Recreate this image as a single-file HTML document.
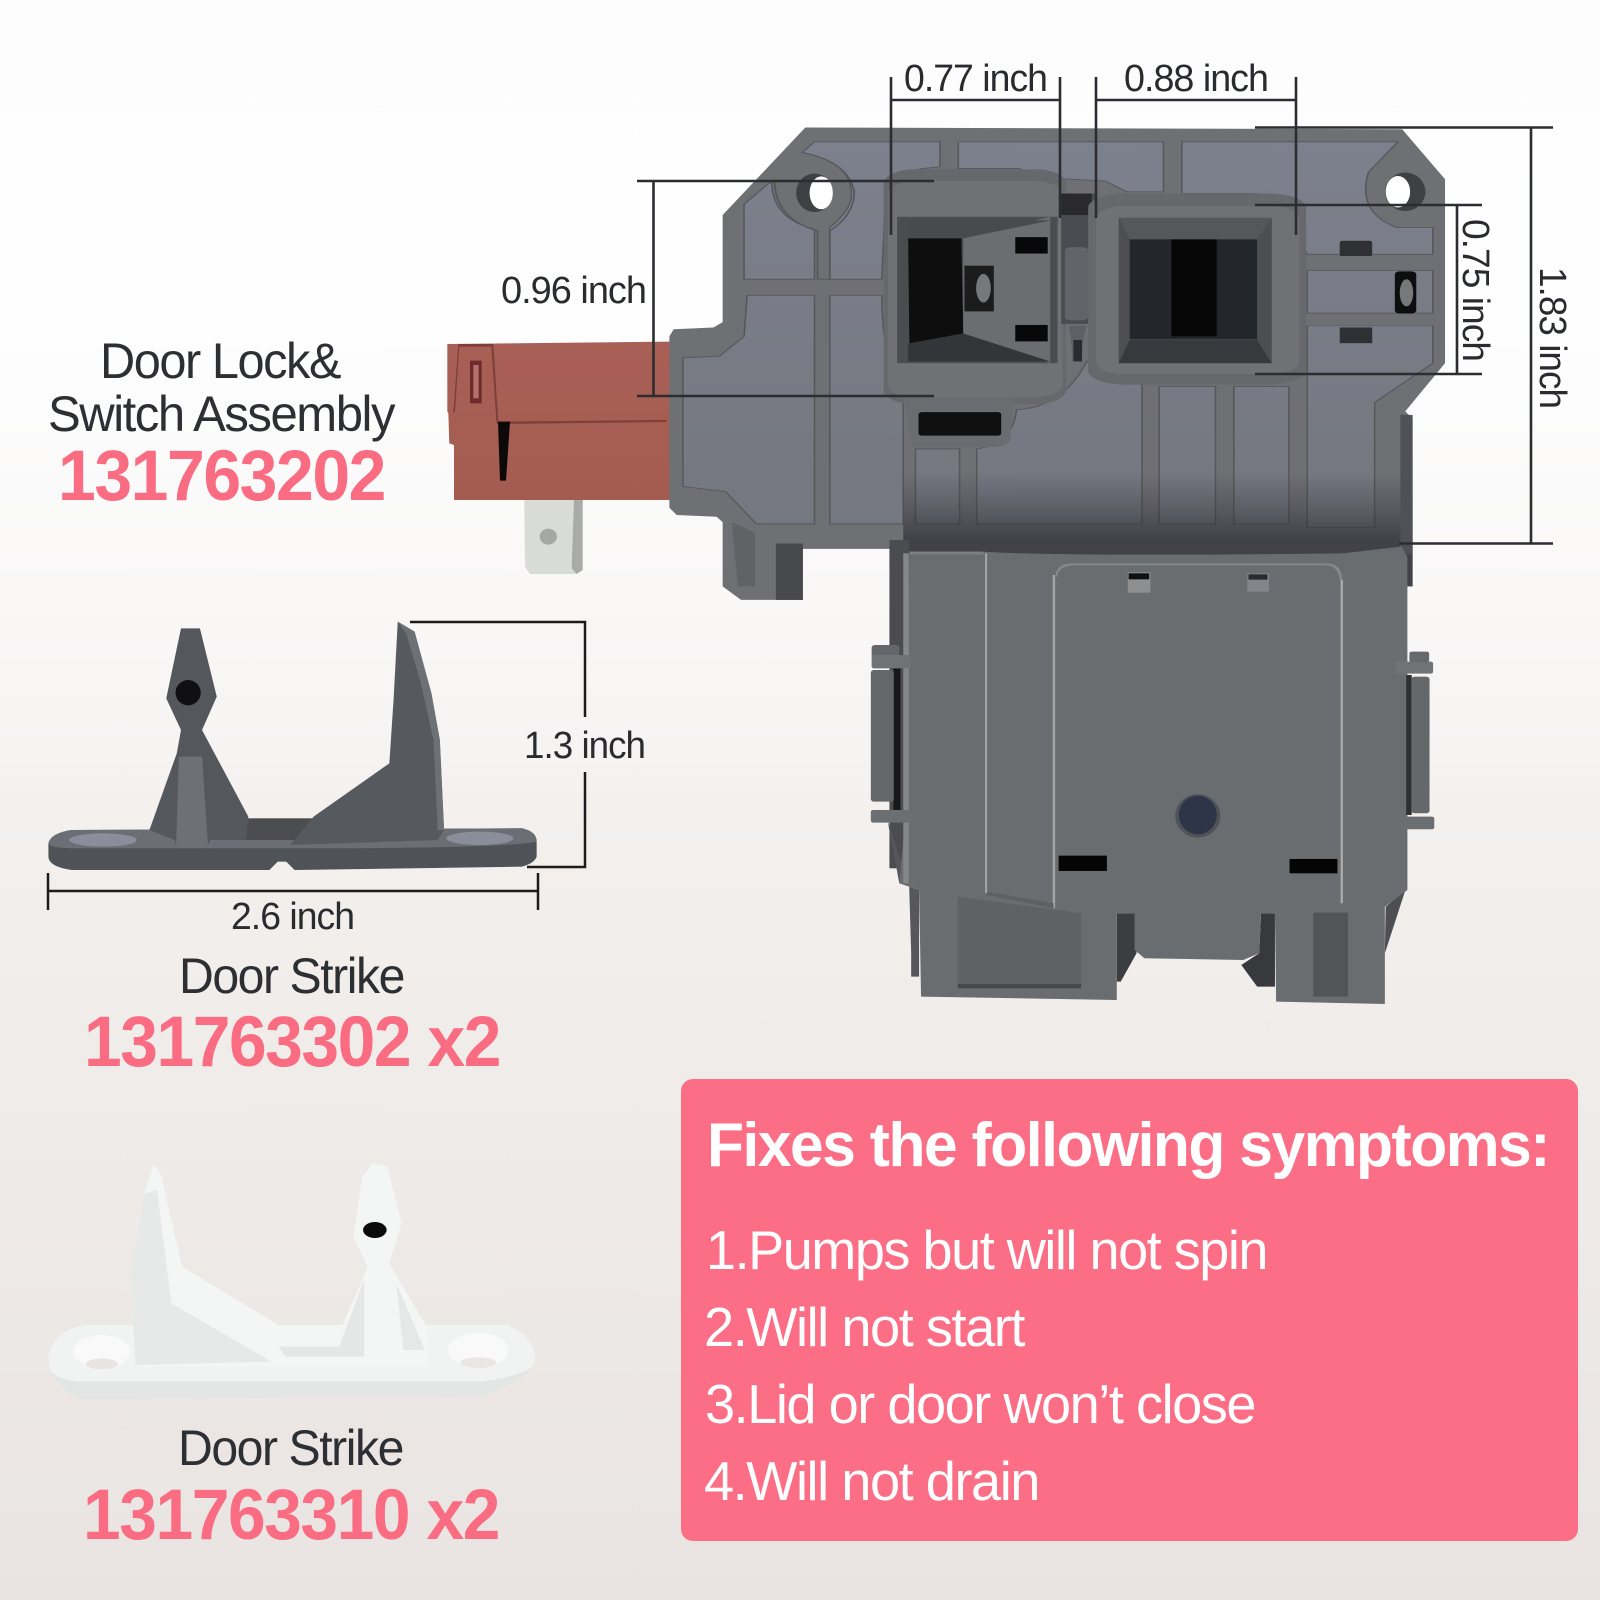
<!DOCTYPE html>
<html><head><meta charset="utf-8"><style>
html,body{margin:0;padding:0;background:#fff}
svg{display:block}
text{font-family:"Liberation Sans",Arial,sans-serif}
.d{fill:#2a2b2e;font-size:38px;letter-spacing:-1px}
.h{fill:#2d2f33;font-size:50px;letter-spacing:-1.5px}
.p{fill:#f96c82;font-size:71px;font-weight:bold;letter-spacing:-1.5px}
.w{fill:#fff;font-size:55px;letter-spacing:-1.5px}
</style></head><body>
<svg width="1600" height="1600" viewBox="0 0 1600 1600" xmlns="http://www.w3.org/2000/svg">
<defs>
<linearGradient id="bg" x1="0" y1="0" x2="0" y2="1">
<stop offset="0" stop-color="#fdfdfd"/><stop offset=".2" stop-color="#fefefe"/><stop offset=".47" stop-color="#f6f4f3"/><stop offset=".5" stop-color="#f3f0ee"/><stop offset="1" stop-color="#e9e4e2"/>
</linearGradient>
<linearGradient id="pan" gradientUnits="userSpaceOnUse" x1="0" y1="250" x2="0" y2="1400">
<stop offset="0" stop-color="#7d818e"/><stop offset=".45" stop-color="#797c86"/><stop offset="1" stop-color="#74777f"/>
</linearGradient>
<linearGradient id="shade" gradientUnits="userSpaceOnUse" x1="0" y1="1210" x2="0" y2="1400">
<stop offset="0" stop-color="#34363c" stop-opacity="0"/><stop offset=".5" stop-color="#34363c" stop-opacity=".35"/><stop offset="1" stop-color="#2e3036" stop-opacity=".72"/>
</linearGradient>
<linearGradient id="brown" x1="0" y1="0" x2="0" y2="1"><stop offset="0" stop-color="#a85f55"/><stop offset="1" stop-color="#a55c50"/></linearGradient>
</defs>
<rect width="1600" height="1600" fill="url(#bg)"/>

<!-- brown connector -->
<g transform="translate(430,320) scale(.3333)">
<path d="M52,72 L720,65 L725,540 L72,540 L72,375 L58,370 L55,280 L52,275Z" fill="url(#brown)"/>
<path d="M85,72 L190,72 L205,305 L710,300 L710,306 L200,312 L184,80 L88,80 L75,275 L70,280Z" fill="#7d3f38"/>
<rect x="120" y="122" width="35" height="128" fill="#6e2a2c"/><rect x="130" y="135" width="16" height="100" fill="#b5706b"/>
<path d="M204,305 L240,305 L228,482 L210,482Z" fill="#0c0908"/>
<path d="M283,540 H458 V750 L440,762 H300 L285,740Z" fill="#d9dbd7"/>
<path d="M432,540 H458 V750 L440,762 L425,745Z" fill="#a9aba8"/>
<ellipse cx="355" cy="650" rx="26" ry="24" fill="#a6a8a4"/>
</g>

<!-- upper plate -->
<g transform="translate(640,40) scale(.6122,.3571)">
<path d="M270,245 L1245,250 L1315,390 L1315,905 L1250,1040 L1262,1060 L1262,1530 L440,1530 L420,1425 L266,1425 L266,1568 L165,1568 L135,1530 L135,1350 L125,1335 L60,1330 L48,1310 L48,830 L55,810 L120,805 L135,790 L135,490Z" fill="#6e7074"/>
<rect x="222" y="1410" width="44" height="158" fill="#47494d"/>
<path d="M150,1350 L188,1380 V1530 L160,1530Z" fill="#606266"/>
<g fill="url(#pan)" stroke="#55575b" stroke-width="2.500">
<path d="M285,285 L490,285 L490,355 L460,360 Q410,380 400,470 L395,670 L310,670 L310,525 Q350,470 345,420 Q340,340 265,315Z"/>
<path d="M520,285 H855 V425 H795 L760,395 L650,385 L620,360 H520Z"/>
<path d="M885,285 H1238 L1190,370 Q1170,480 1235,525 H1295 V600 H1090 Q1075,560 1070,490 Q1060,430 1000,430 H885Z"/>
<path d="M215,395 L170,460 V670 H285 V530 Q215,500 215,395Z"/>
<path d="M175,715 H285 V1355 H190 L140,1265 L70,1250 V890 L130,885 L170,830Z"/>
<path d="M310,715 H395 Q395,900 430,1000 V1355 H310Z"/>
<path d="M450,1145 H522 V1355 H450Z"/>
<path d="M550,1145 Q610,1130 615,1035 Q690,1030 730,900 Q780,960 820,965 V1355 H550Z"/>
<path d="M848,970 H940 V1355 H848Z"/>
<path d="M970,970 H1060 V1355 H970Z"/>
<path d="M1090,800 H1295 V905 L1200,1015 V1365 H1090Z"/>
<path d="M1090,645 H1295 V765 H1090Z"/>
</g>
<!-- dark lower band -->
<rect x="430" y="1210" width="832" height="320" fill="url(#shade)"/>
<!-- mounting holes -->
<ellipse cx="285" cy="428" rx="30" ry="54" fill="#3e4043"/><ellipse cx="296" cy="428" rx="19" ry="46" fill="#fff"/>
<ellipse cx="1250" cy="425" rx="33" ry="54" fill="#3e4043"/><ellipse cx="1238" cy="425" rx="20" ry="44" fill="#fff"/>
<path d="M220,395 Q220,500 290,535 V670 H310 V535 Q350,490 350,425 Q340,340 265,315" fill="none" stroke="#55575b" stroke-width="3"/>
<!-- frames -->
<rect x="398" y="362" width="298" height="658" rx="50" ry="40" fill="#66686c"/>
<rect x="405" y="395" width="285" height="605" rx="45" ry="35" fill="#6f7175"/>
<path d="M430,1000 H610 L605,1120 Q600,1140 570,1140 H445Z" fill="#6a6c70"/>
<rect x="455" y="1042" width="135" height="66" rx="6" fill="#0f0f10"/>
<rect x="420" y="495" width="262" height="410" fill="#4a4c4f"/>
<path d="M438,555 H525 L528,822 L440,850Z" fill="#0e0e0f"/>
<path d="M528,555 L670,495 V905 L528,822Z" fill="#6b6d71"/>
<path d="M438,505 H672 L528,555 H438Z" fill="#484a4d"/>
<path d="M438,850 L528,822 L670,900 H438Z" fill="#343538"/>
<rect x="530" y="632" width="48" height="128" fill="#1c1c1d"/><ellipse cx="561" cy="695" rx="12" ry="40" fill="#77787a"/>
<rect x="613" y="552" width="53" height="46" fill="#08080a"/><rect x="613" y="798" width="53" height="46" fill="#08080a"/>
<rect x="688" y="430" width="56" height="365" fill="#4a4c52"/>
<rect x="688" y="430" width="50" height="60" fill="#2a2a2c"/>
<rect x="694" y="580" width="38" height="205" rx="10" fill="#62646a"/>
<path d="M700,800 H730 Q722,835 722,900 L706,900 Q705,830 700,800Z" fill="#5e6066"/><rect x="708" y="840" width="14" height="60" fill="#2a2b2e"/>
<rect x="732" y="430" width="356" height="535" rx="60" ry="40" fill="#66686c"/>
<rect x="745" y="465" width="332" height="470" rx="45" ry="35" fill="#6f7175"/>
<rect x="782" y="498" width="250" height="407" fill="#4c4e51"/>
<rect x="800" y="558" width="208" height="280" fill="#23262a"/>
<rect x="868" y="558" width="74" height="272" fill="#070708"/>
<path d="M782,498 H1032 L1008,558 H800Z" fill="#55575a"/>
<path d="M782,905 L800,840 H1008 L1032,905Z" fill="#37393c"/>
<!-- right clip -->
<rect x="1143" y="562" width="53" height="44" rx="5" fill="#2e3033"/>
<rect x="1143" y="805" width="53" height="44" fill="#2e3033"/>
<rect x="1233" y="648" width="35" height="118" rx="8" fill="#0e0e0f"/><ellipse cx="1252" cy="708" rx="11" ry="38" fill="#77787a"/>
<rect x="1090" y="605" width="205" height="38" fill="#6e7074"/><rect x="1090" y="768" width="205" height="32" fill="#6e7074"/>
<rect x="1242" y="1050" width="20" height="390" fill="#4f5156"/>
</g>

<!-- lower housing -->
<g transform="translate(840,520) scale(.3954,.3333)">
<rect x="125" y="60" width="50" height="985" fill="#4a4c50"/>
<path d="M120,900 L150,1090 L200,1110 L200,1370 L180,1370 L180,1300 L175,1100Z" fill="#55575b"/>
<path d="M1380,1160 L1430,1110 L1378,1300Z" fill="#4d4f53"/>
<path d="M700,1180 H750 V1300 L710,1385 H700Z" fill="#3b3d40"/>
<path d="M1065,1180 H1100 V1400 H1055 L1015,1335 L1060,1300Z" fill="#37393c"/>
<path d="M175,95 L360,95 Q560,110 1270,100 L1420,80 L1435,110 L1435,1110 L1378,1160 L1378,1452 L1103,1445 L1100,1180 L1065,1180 L1060,1300 L1020,1320 L770,1315 L745,1290 L745,1180 L700,1180 L700,1440 L205,1430 L200,1110 L150,1090 L165,900Z" fill="#6a6d70"/>
<path d="M545,170 Q545,130 590,130 H1230 Q1270,130 1270,180 L1264,180 Q1260,138 1230,136 H590 Q552,138 550,170Z" fill="#85888a"/>
<path d="M175,95 H360 L365,103 H178Z" fill="#7d8083"/>
<rect x="367" y="100" width="5" height="1020" fill="#a5a7a4"/>
<rect x="538" y="165" width="6" height="1000" fill="#a5a7a4"/>
<rect x="1266" y="180" width="6" height="970" fill="#a9aba8"/>
<rect x="160" y="100" width="14" height="990" fill="#85888a"/>
<path d="M370,1125 L540,1165 V1150 L372,1115Z" fill="#5e6063"/>
<!-- ears -->
<rect x="135" y="440" width="18" height="430" fill="#17181a"/>
<rect x="78" y="450" width="58" height="395" rx="8" fill="#646769"/>
<rect x="80" y="375" width="70" height="40" rx="8" fill="#64676a"/>
<rect x="80" y="405" width="100" height="40" rx="6" fill="#707376"/>
<rect x="78" y="870" width="105" height="38" rx="6" fill="#6c6f72"/>
<rect x="1432" y="465" width="14" height="420" fill="#2e3033"/>
<rect x="1445" y="470" width="46" height="410" rx="8" fill="#65686b"/>
<rect x="1405" y="425" width="95" height="36" rx="6" fill="#717477"/>
<rect x="1440" y="395" width="50" height="32" rx="6" fill="#666a6d"/>
<rect x="1415" y="890" width="88" height="38" rx="6" fill="#6c6f72"/>
<!-- windows -->
<rect x="728" y="157" width="57" height="61" fill="#8d8f90"/><rect x="730" y="160" width="52" height="18" fill="#101012"/>
<rect x="1030" y="160" width="55" height="55" fill="#83858a"/><rect x="1033" y="163" width="48" height="16" fill="#2a2b2e"/>
<rect x="553" y="1007" width="122" height="46" fill="#050505"/>
<rect x="1137" y="1017" width="121" height="43" fill="#050505"/>
<ellipse cx="905" cy="888" rx="57" ry="65" fill="#4f5256"/>
<ellipse cx="905" cy="885" rx="48" ry="58" fill="#2e3548"/>
<!-- bottom recesses -->
<path d="M298,1130 L610,1180 V1405 H298Z" fill="#5f6265"/>
<rect x="298" y="1392" width="312" height="13" fill="#47494c"/>
<rect x="1197" y="1178" width="88" height="252" fill="#525457"/>
<path d="M610,1165 H700 V1180 H610Z" fill="#6a6d70"/>
</g>

<!-- device dimension lines -->
<g stroke="#2b2d30" stroke-width="2.600" fill="none">
<path d="M891,77V235M1060,77V218M891,100H1060"/>
<path d="M1096,77V218M1296,77V235M1096,100H1296"/>
<path d="M637,181H934M637,396H934M653.5,181V396"/>
<path d="M1255,205H1482M1255,374H1482M1457,205V374"/>
<path d="M1255,127.500H1553M1399,543.500H1553M1531,127.500V543.500"/>
</g>

<!-- dark strike -->
<g transform="translate(0,600) scale(.4209,.3333)">
<path d="M115,730 Q120,700 170,690 L1240,685 Q1275,695 1275,725 V770 Q1270,790 1240,800 L700,810 L680,785 L660,785 L640,810 L170,810 Q115,800 115,770Z" fill="#4f5256"/>
<path d="M115,730 Q120,700 170,690 L1240,685 Q1275,695 1275,725 Q1200,745 700,745 H640 Q300,745 170,745 Q120,745 115,730Z" fill="#6b6e74"/>
<ellipse cx="245" cy="720" rx="80" ry="20" fill="#8a8e9b"/>
<ellipse cx="1140" cy="715" rx="80" ry="20" fill="#8a8e9b"/>
<rect x="565" y="655" width="190" height="65" fill="#4b4d51"/>
<path d="M430,85 L475,85 L515,290 L480,390 L590,650 L585,720 L500,720 L490,745 L420,745 L415,720 L355,690 L420,460 L430,390 L395,295Z" fill="#54575c"/>
<path d="M425,470 L480,470 L495,745 L418,745Z" fill="#6d7076"/>
<ellipse cx="447" cy="278" rx="30" ry="38" fill="#101012"/>
<path d="M945,65 L985,95 L1025,280 L1045,420 L1055,690 L1040,720 L690,735 L745,650 L925,490 L935,300Z" fill="#565a5f"/>
<path d="M945,65 L985,95 L1025,280 L1045,420 L1055,690 L1040,690 L1030,420 L1000,250 L965,100Z" fill="#6d7075"/>
</g>
<g stroke="#1c1c1c" stroke-width="2.500" fill="none">
<path d="M410,622H585V717M585,772V867H527"/>
<path d="M48,891H538M48,873V910M538,873V910"/>
</g>

<!-- white strike -->
<g transform="translate(0,1140) scale(.357,.3333)">
<path d="M135,650 Q150,570 240,555 L1420,555 Q1500,590 1500,660 Q1470,730 1350,770 L230,778 Q140,750 135,650Z" fill="#f1f2f2"/>
<path d="M430,75 L450,100 L510,380 L780,555 L960,555 L1030,380 L990,290 L1015,110 L1045,70 L1085,80 L1125,250 L1090,370 L1195,560 L1200,680 L380,680 L365,400 L405,160Z" fill="#f4f5f5"/>
<path d="M405,160 L440,150 L480,490 L760,665 L380,675 L365,400Z" fill="#e7e8e8"/>
<path d="M780,620 H950 L1020,420 L1020,650 H800Z" fill="#e5e6e6"/>
<path d="M1110,430 L1190,630 H1130Z" fill="#e6e7e7"/>
<ellipse cx="285" cy="635" rx="80" ry="50" fill="#f9f9f9"/><ellipse cx="285" cy="672" rx="45" ry="16" fill="#e9e3e1"/>
<ellipse cx="1340" cy="630" rx="85" ry="52" fill="#f9f9f9"/><ellipse cx="1340" cy="668" rx="50" ry="16" fill="#ebe5e3"/>
<ellipse cx="1050" cy="270" rx="33" ry="24" fill="#0b0b0b"/>
<path d="M135,690 Q180,770 230,778 L1350,770 Q1460,730 1495,680 Q1440,715 1340,725 H240 Q170,725 135,690Z" fill="#e4e5e5"/>
</g>

<!-- labels -->
<text class="h" x="100" y="378" textLength="240" lengthAdjust="spacingAndGlyphs">Door Lock&amp;</text>
<text class="h" x="48" y="431" textLength="346" lengthAdjust="spacingAndGlyphs">Switch Assembly</text>
<text class="p" x="58" y="500" textLength="327" lengthAdjust="spacingAndGlyphs">131763202</text>
<text class="d" x="501" y="303" textLength="145" lengthAdjust="spacingAndGlyphs">0.96 inch</text>
<text class="d" x="904" y="91" textLength="143" lengthAdjust="spacingAndGlyphs">0.77 inch</text>
<text class="d" x="1124" y="91" textLength="144" lengthAdjust="spacingAndGlyphs">0.88 inch</text>
<text class="d" transform="translate(1463,219) rotate(90)" textLength="142" lengthAdjust="spacingAndGlyphs">0.75 inch</text>
<text class="d" transform="translate(1540,267) rotate(90)" textLength="141" lengthAdjust="spacingAndGlyphs">1.83 inch</text>
<text class="d" x="524" y="758" textLength="121" lengthAdjust="spacingAndGlyphs">1.3 inch</text>
<text class="d" x="231" y="929" textLength="123" lengthAdjust="spacingAndGlyphs">2.6 inch</text>
<text class="h" x="179" y="993" textLength="225" lengthAdjust="spacingAndGlyphs">Door Strike</text>
<text class="p" x="84" y="1066" textLength="416" lengthAdjust="spacingAndGlyphs">131763302 x2</text>
<text class="h" x="178" y="1465" textLength="225" lengthAdjust="spacingAndGlyphs">Door Strike</text>
<text class="p" x="83" y="1539" textLength="416" lengthAdjust="spacingAndGlyphs">131763310 x2</text>

<!-- symptoms -->
<rect x="681" y="1079" width="897" height="462" rx="12" fill="#fb6e85"/>
<text x="707" y="1166" fill="#fff" font-size="62" font-weight="bold" letter-spacing="-1.5" textLength="842" lengthAdjust="spacingAndGlyphs">Fixes the following symptoms:</text>
<text class="w" x="706" y="1269" textLength="561" lengthAdjust="spacingAndGlyphs">1.Pumps but will not spin</text>
<text class="w" x="704" y="1346" textLength="320" lengthAdjust="spacingAndGlyphs">2.Will not start</text>
<text class="w" x="705" y="1423" textLength="550" lengthAdjust="spacingAndGlyphs">3.Lid or door won’t close</text>
<text class="w" x="704" y="1500" textLength="335" lengthAdjust="spacingAndGlyphs">4.Will not drain</text>
</svg>
</body></html>
